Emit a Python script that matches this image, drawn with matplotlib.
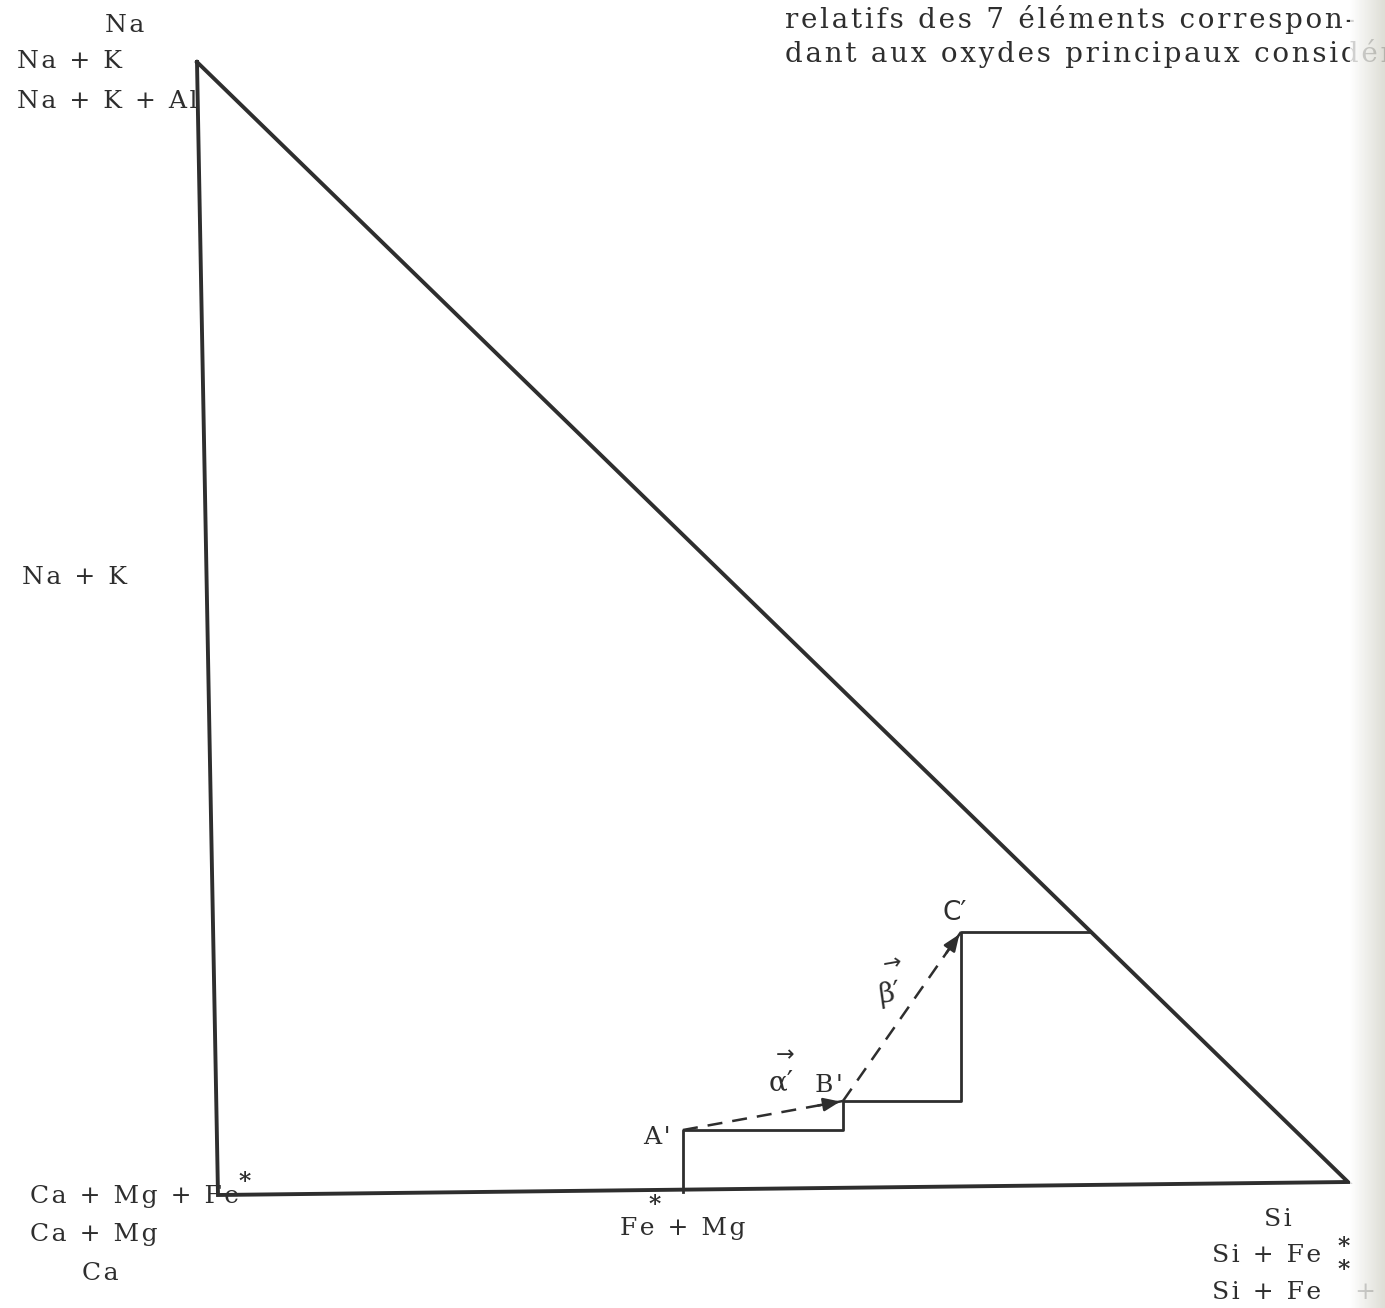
#Diagram of the Na / Ca / Si triangle with the A' B' C' staircase
#positions are given in the picture's own pixel frame (y grows downwards)

import numpy as np
import matplotlib.pyplot as plt
from matplotlib.colors import LinearSegmentedColormap

#triangle corners: Na apex, Ca corner, Si corner
triX = [197, 218, 1348, 197]
triY = [62, 1195, 1182, 62]

#staircase from the Fe+Mg axis up to the hypotenuse
stepX = [683, 683, 843, 843, 961, 961, 1090]
stepY = [1192, 1130, 1130, 1101, 1101, 932, 932]

#points A', B', C' joined by the dashed vectors alpha' and beta'
ptNames = ["A'", "B'", "C′"]
ptX = [683, 843, 961]
ptY = [1130, 1101, 932]

#corner labels (text, x, y, alignment)
labels = [
    ("Na", 125, 25, "center"),
    ("Na + K", 17, 62, "left"),
    ("Na + K + Al", 17, 101, "left"),
    ("Na + K", 22, 577, "left"),
    ("Ca + Mg + Fe", 30, 1197, "left"),
    ("Ca + Mg", 30, 1234, "left"),
    ("Ca", 100, 1273, "center"),
    ("Fe + Mg", 683, 1228, "center"),
    ("Si", 1278, 1220, "center"),
    ("Si + Fe", 1212, 1256, "left"),
    ("Si + Fe   + Mg", 1212, 1293, "left"),
]
#small asterisks next to Fe
starX = [245, 655, 1344, 1344]
starY = [1182, 1205, 1247, 1270]

#top text from the page
pageLines = ["relatifs des 7 éléments correspon-",
             "dant aux oxydes principaux considérés"]

ink = "#2e2e2e"
serif = ["DejaVu Serif", "DejaVu Sans"]
HAIR = "\u200a"

def spread(s, sep):
    #typewriter look: a little extra room between letters
    return sep.join(s)

fig = plt.figure(figsize=(13.85, 13.08), dpi=100)
ax = fig.add_axes([0, 0, 1, 1])
ax.set_xlim(0, 1385)
ax.set_ylim(1308, 0)
ax.axis("off")

#triangle
ax.plot(triX, triY, color=ink, linewidth=2.8, solid_joinstyle="miter")
#staircase
ax.plot(stepX, stepY, color=ink, linewidth=2.0)

#dashed vectors with arrow heads
for i in range(len(ptX) - 1):
    ax.plot([ptX[i], ptX[i+1]], [ptY[i], ptY[i+1]], color=ink,
            linewidth=1.8, linestyle=(0, (6, 4)))
    dx = ptX[i+1] - ptX[i]
    dy = ptY[i+1] - ptY[i]
    back = 28.0 / np.hypot(dx, dy)
    ax.annotate("", xy=(ptX[i+1], ptY[i+1]),
                xytext=(ptX[i+1] - dx*back, ptY[i+1] - dy*back),
                arrowprops=dict(arrowstyle="-|>,head_length=1.0,head_width=0.4",
                                color=ink, linewidth=1.8))

#point labels
ax.text(ptX[0] - 26, ptY[0] + 7, spread(ptNames[0], HAIR), fontsize=18,
        family=serif, color=ink, ha="center", va="center")
ax.text(ptX[1] - 14, ptY[1] - 16, spread(ptNames[1], HAIR), fontsize=18,
        family=serif, color=ink, ha="center", va="center")
ax.text(ptX[2] - 6, ptY[2] - 19, ptNames[2], fontsize=19, family="DejaVu Sans",
        color=ink, ha="center", va="center")

#vector names with their little arrows
ax.text(781, 1083, "α′", fontsize=20, family=serif, color=ink,
        ha="center", va="center")
ax.text(785, 1055, "→", fontsize=16, color=ink, ha="center", va="center")
ax.text(889, 994, "β′", fontsize=20, family=serif, color=ink,
        ha="center", va="center", rotation=8)
ax.text(892, 964, "→", fontsize=16, color=ink, ha="center", va="center",
        rotation=10)

#corner labels
for (txt, x, y, ha) in labels:
    ax.text(x, y, spread(txt, HAIR), fontsize=18, family=serif, color=ink,
            ha=ha, va="center")
for (x, y) in zip(starX, starY):
    ax.text(x, y, "*", fontsize=17, family=serif, color=ink,
            ha="center", va="center", fontweight="bold")

#page text at the top right
for i, line in enumerate(pageLines):
    ax.text(785, 19 + 34*i, spread(line, HAIR), fontsize=20, family=serif,
            color=ink, ha="left", va="center")

#grey shadow of the book binding on the right edge
shade = LinearSegmentedColormap.from_list("shade", ["#ffffff", "#d6d6cc"])
grad = np.linspace(0, 1, 64).reshape(1, -1)
ax.imshow(grad, cmap=shade, extent=[1350, 1385, 1308, 0], aspect="auto",
          alpha=0.8, zorder=5)
ax.set_xlim(0, 1385)
ax.set_ylim(1308, 0)

fig.savefig("out.png", dpi=100, facecolor="white")
